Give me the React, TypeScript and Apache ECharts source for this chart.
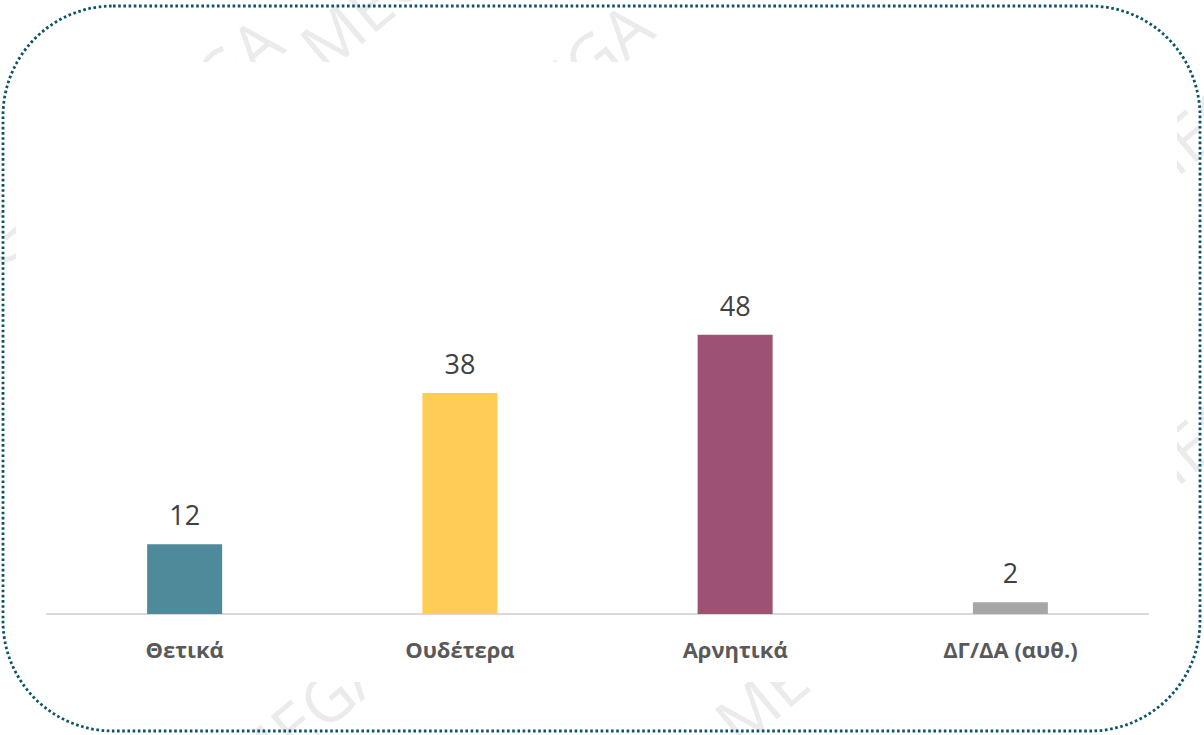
import React, { useEffect, useRef } from "react";
import * as echarts from "echarts";

const categories = ["Θετικά", "Ουδέτερα", "Αρνητικά", "ΔΓ/ΔΑ (αυθ.)"];
const values = [12, 38, 48, 2];
const barColors = ["#4E8A99", "#FFCC55", "#9E5273", "#A6A6A6"];

const watermarks: [number, number][] = [
  [150, 175],
  [330, 80],
  [520, 160],
  [1150, 210],
  [1150, 520],
  [-70, 340],
  [255, 800],
  [745, 755],
];

export default function App() {
  const ref = useRef<HTMLDivElement>(null);
  useEffect(() => {
    if (!ref.current) return;
    const chart = echarts.init(ref.current, undefined, { renderer: "svg" });
    const wm = watermarks.map(([x, y]) => ({
      type: "text",
      x,
      y,
      rotation: 0.7,
      z: -10,
      silent: true,
      style: {
        text: "MEGA",
        fill: "#EBEBEB",
        font: "normal 66px 'Open Sans', sans-serif",
        textVerticalAlign: "bottom",
      },
    }));
    chart.setOption({
      animation: false,
      backgroundColor: "#fff",
      grid: { left: 47, right: 56, top: 265, bottom: 121, containLabel: false },
      xAxis: {
        type: "category",
        data: categories,
        axisLine: { lineStyle: { color: "#D9D9D9", width: 2 } },
        axisTick: { show: false },
        axisLabel: {
          color: "#595959",
          fontFamily: "'Open Sans', sans-serif",
          fontWeight: "bold",
          fontSize: 22,
          margin: 24,
        },
      },
      yAxis: {
        type: "value",
        min: 0,
        max: 60,
        show: false,
        splitLine: { show: false },
      },
      series: [
        {
          type: "bar",
          barWidth: 75,
          data: values.map((v, i) => ({ value: v, itemStyle: { color: barColors[i] } })),
          label: {
            show: true,
            position: "top",
            distance: 16,
            color: "#404040",
            fontFamily: "'Open Sans', sans-serif",
            fontSize: 27,
          },
        },
      ],
      graphic: [
        ...wm,
        {
          type: "rect",
          z: -5,
          silent: true,
          shape: { x: 16, y: 62, width: 1161, height: 620 },
          style: { fill: "#fff" },
        },
        {
          type: "rect",
          z: 100,
          silent: true,
          shape: { x: 3, y: 6, width: 1197, height: 725, r: 110 },
          style: { fill: "none", stroke: "#0B5468", lineWidth: 2.8, lineDash: [2.6, 2.6] },
        },
      ],
    });
    return () => chart.dispose();
  }, []);
  return <div ref={ref} style={{ width: 1204, height: 735, position: "absolute", left: 0, top: 0 }} />;
}
